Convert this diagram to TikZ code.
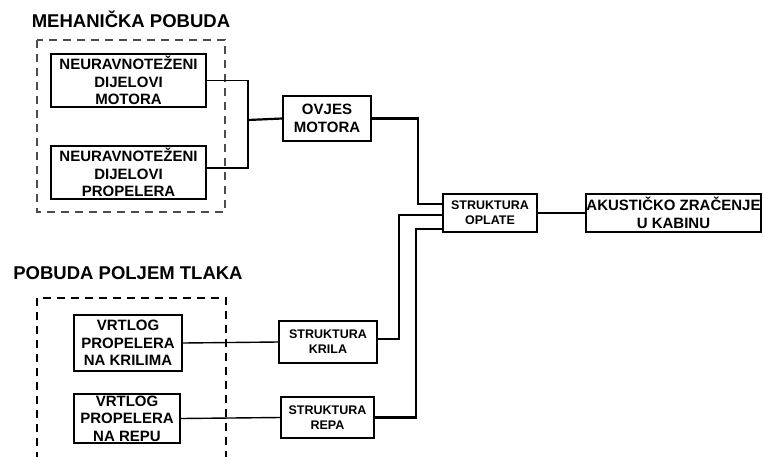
\documentclass[tikz,border=0pt]{standalone}
\usepackage{fontspec}
\setmainfont{Liberation Sans}
\begin{document}
\begin{tikzpicture}[x=1pt,y=-1pt,
  box/.style={draw,line width=2pt,rectangle,inner sep=0pt,align=center,
    font=\fontsize{15}{17.5}\selectfont\bfseries},
  sbox/.style={box,font=\fontsize{12.5}{15}\selectfont\bfseries},
  thick conn/.style={line width=2.2pt},
  thin conn/.style={line width=1.4pt},
  group/.style={line width=1.1pt,dash pattern=on 8pt off 6pt},
  title/.style={font=\fontsize{18.5}{20}\selectfont\bfseries,inner sep=0pt}]
\useasboundingbox (0,0) rectangle (765,456);
\fill[white] (0,0) rectangle (765,456);

\node[title] (t1) at (131,19) {MEHANIČKA POBUDA};
\node[title] (t2) at (128,273) {POBUDA POLJEM TLAKA};

\draw[group,black!70] (37,40) rectangle (225,212);
\draw[group] (37,460) -- (37,298) -- (226,298) -- (226,460);

\node[box,minimum width=155pt,minimum height=53pt] (nm) at (128.5,80.5) {NEURAVNOTEŽENI\\DIJELOVI\\MOTORA};
\node[box,minimum width=155pt,minimum height=53pt] (np) at (128.5,172.5) {NEURAVNOTEŽENI\\DIJELOVI\\PROPELERA};
\node[box,minimum width=88pt,minimum height=45pt] (ov) at (327,118.5) {OVJES\\MOTORA};
\node[sbox,minimum width=94pt,minimum height=38pt] (op) at (490,213) {STRUKTURA\\OPLATE};
\node[box,minimum width=175pt,minimum height=38pt] (ak) at (673.5,213) {AKUSTIČKO ZRAČENJE\\U KABINU};
\node[box,minimum width=108pt,minimum height=56pt] (vk) at (128,343) {VRTLOG\\PROPELERA\\NA KRILIMA};
\node[box,minimum width=106pt,minimum height=49pt] (vr) at (127,418.5) {VRTLOG\\PROPELERA\\NA REPU};
\node[sbox,minimum width=98pt,minimum height=42pt] (sk) at (328,342) {STRUKTURA\\KRILA};
\node[sbox,minimum width=93pt,minimum height=41pt] (sr) at (327.5,417.5) {STRUKTURA\\REPA};

\coordinate (j) at (248,120);
\coordinate (k0) at (418,204);
\coordinate (k1) at (399,215);
\coordinate (k2) at (416,229);

\draw[thin conn] (nm.east) -| (j);
\draw[thin conn] ([yshift=4.5pt]np.east) -| (j);
\draw[thick conn] (j) -- (ov.west);
\draw[thick conn] (ov.east) -| (k0) -- (op.west |- k0);
\draw[thick conn] ([yshift=3pt]sk.east) -| (k1) -- (op.west |- k1);
\draw[thick conn] (sr.east) -| (k2) -- (op.west |- k2);
\draw[thin conn] (op.east) -- (ak.west);
\draw[thin conn] (vk.east) -- (sk.west);
\draw[thin conn] (vr.east) -- (sr.west);
\end{tikzpicture}
\end{document}
